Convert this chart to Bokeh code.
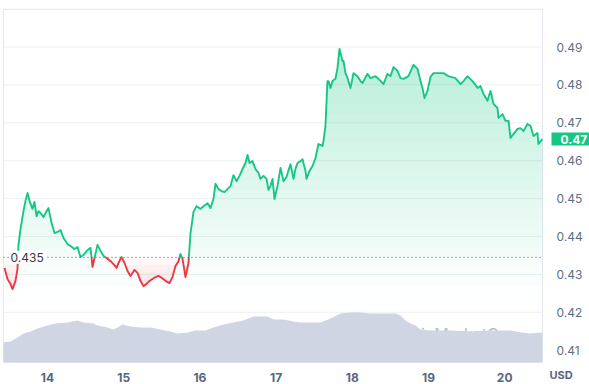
import numpy as np
from bokeh.plotting import figure
from bokeh.models import Range1d
from bokeh.core.properties import value
from bokeh.embed import file_html
from bokeh.resources import INLINE

# ---------------- data ----------------
times = [13.436, 13.475, 13.514, 13.541, 13.580, 13.606, 13.619, 13.646, 13.685, 13.711,
         13.738, 13.764, 13.803, 13.829, 13.856, 13.882, 13.908, 13.948, 13.987, 14.013,
         14.053, 14.092, 14.131, 14.171, 14.210, 14.262, 14.302, 14.354, 14.394, 14.433,
         14.472, 14.525, 14.564, 14.591, 14.617, 14.656, 14.696, 14.735, 14.787, 14.827,
         14.866, 14.906, 14.932, 14.971, 15.011, 15.050, 15.089, 15.142, 15.181, 15.220,
         15.260, 15.299, 15.339, 15.378, 15.417, 15.457, 15.496, 15.549, 15.601, 15.640,
         15.680, 15.719, 15.745, 15.772, 15.811, 15.850, 15.877, 15.916, 15.955, 16.008,
         16.047, 16.100, 16.139, 16.178, 16.205, 16.244, 16.283, 16.323, 16.362, 16.402,
         16.441, 16.480, 16.520, 16.559, 16.598, 16.625, 16.651, 16.690, 16.730, 16.769,
         16.795, 16.835, 16.874, 16.900, 16.926, 16.953, 16.979, 17.018, 17.058, 17.097,
         17.136, 17.189, 17.228, 17.254, 17.281, 17.320, 17.346, 17.386, 17.399, 17.438,
         17.478, 17.517, 17.556, 17.609, 17.622, 17.648, 17.674, 17.688, 17.714, 17.740,
         17.779, 17.806, 17.832, 17.871, 17.884, 17.911, 17.937, 17.976, 18.016, 18.068,
         18.108, 18.134, 18.199, 18.239, 18.304, 18.344, 18.409, 18.462, 18.501, 18.541,
         18.593, 18.632, 18.672, 18.737, 18.803, 18.856, 18.895, 18.921, 18.947, 18.987,
         19.026, 19.066, 19.118, 19.197, 19.262, 19.354, 19.420, 19.459, 19.512, 19.577,
         19.643, 19.682, 19.722, 19.774, 19.814, 19.853, 19.905, 19.919, 19.971, 20.010,
         20.050, 20.076, 20.115, 20.168, 20.207, 20.247, 20.299, 20.338, 20.378, 20.430,
         20.443, 20.495]

prices = [0.4317, 0.4288, 0.4275, 0.4261, 0.4283, 0.4314, 0.4378, 0.4420, 0.4467, 0.4494,
          0.4515, 0.4494, 0.4473, 0.4491, 0.4454, 0.4467, 0.4462, 0.4451, 0.4467, 0.4475,
          0.4436, 0.4409, 0.4412, 0.4417, 0.4396, 0.4380, 0.4375, 0.4367, 0.4372, 0.4346,
          0.4351, 0.4364, 0.4370, 0.4320, 0.4343, 0.4378, 0.4362, 0.4349, 0.4341, 0.4335,
          0.4327, 0.4317, 0.4330, 0.4346, 0.4330, 0.4309, 0.4296, 0.4312, 0.4304, 0.4283,
          0.4269, 0.4275, 0.4283, 0.4288, 0.4293, 0.4296, 0.4291, 0.4283, 0.4277, 0.4293,
          0.4322, 0.4335, 0.4354, 0.4341, 0.4293, 0.4330, 0.4409, 0.4465, 0.4480, 0.4473,
          0.4480, 0.4488, 0.4475, 0.4499, 0.4539, 0.4525, 0.4520, 0.4517, 0.4525, 0.4533,
          0.4562, 0.4546, 0.4560, 0.4578, 0.4594, 0.4615, 0.4594, 0.4599, 0.4578, 0.4568,
          0.4552, 0.4560, 0.4552, 0.4523, 0.4533, 0.4552, 0.4499, 0.4533, 0.4581, 0.4546,
          0.4557, 0.4591, 0.4552, 0.4578, 0.4594, 0.4599, 0.4604, 0.4573, 0.4552, 0.4573,
          0.4586, 0.4607, 0.4644, 0.4639, 0.4652, 0.4692, 0.4810, 0.4810, 0.4792, 0.4810,
          0.4816, 0.4845, 0.4895, 0.4863, 0.4863, 0.4831, 0.4818, 0.4792, 0.4831, 0.4823,
          0.4810, 0.4805, 0.4829, 0.4818, 0.4823, 0.4816, 0.4802, 0.4829, 0.4823, 0.4847,
          0.4837, 0.4818, 0.4816, 0.4823, 0.4853, 0.4842, 0.4810, 0.4792, 0.4765, 0.4784,
          0.4821, 0.4831, 0.4831, 0.4831, 0.4823, 0.4818, 0.4802, 0.4810, 0.4823, 0.4810,
          0.4792, 0.4797, 0.4776, 0.4758, 0.4784, 0.4750, 0.4739, 0.4713, 0.4723, 0.4705,
          0.4705, 0.4660, 0.4670, 0.4684, 0.4686, 0.4678, 0.4697, 0.4692, 0.4665, 0.4673,
          0.4644, 0.4657]

vol_times = [13.423, 13.514, 13.606, 13.685, 13.777, 13.869, 14.000, 14.105, 14.262, 14.394,
             14.472, 14.604, 14.656, 14.787, 14.866, 14.919, 14.984, 15.089, 15.220, 15.352,
             15.483, 15.614, 15.706, 15.837, 15.942, 16.074, 16.178, 16.310, 16.441, 16.572,
             16.703, 16.887, 16.966, 17.097, 17.228, 17.320, 17.451, 17.583, 17.714, 17.845,
             17.976, 18.108, 18.239, 18.436, 18.567, 18.632, 18.698, 18.764, 18.829, 18.895,
             19.026, 19.289, 19.551, 19.814, 20.076, 20.207, 20.338, 20.495]
volumes = [40, 42, 50, 58, 62, 68, 74, 78, 80, 84,
           80, 78, 74, 70, 66, 70, 76, 72, 70, 70,
           66, 62, 58, 60, 64, 64, 70, 76, 80, 84,
           92, 92, 86, 86, 82, 80, 80, 80, 88, 98,
           100, 100, 98, 98, 98, 94, 84, 78, 74, 66,
           64, 64, 62, 64, 64, 60, 58, 60]

day_ticks = [14, 15, 16, 17, 18, 19, 20]
day_labels = ["14", "15", "16", "17", "18", "19", "20"]
price_ticks = [0.41, 0.42, 0.43, 0.44, 0.45, 0.46, 0.47, 0.48, 0.49]
price_labels = ["0.41", "0.42", "0.43", "0.44", "0.45", "0.46", "0.47", "0.48", "0.49"]
baseline = 0.4345
baseline_text = "0.435"
last_text = "0.47"
currency = "USD"
watermark = "CoinMarketCap"

# window of the price pane (data units)
X0, X1 = 13.4226, 20.4961
Y0, Y1 = 0.40681, 0.49995

GREEN = "#16c784"
RED = "#ea3943"
AXIS_TEXT = "#58667e"
FONT = value("Inter")

# ---------------- figure: the frame fills the whole canvas ----------------
p = figure(width=589, height=384, output_backend="svg", toolbar_location=None,
           x_range=Range1d(13.3832, 21.1129), y_range=Range1d(0.40095, 0.50227),
           x_axis_location=None, y_axis_location=None,
           min_border_left=0, min_border_right=0, min_border_top=0, min_border_bottom=0)
p.extra_y_ranges = {"vol": Range1d(-44, 724)}
p.grid.visible = False
p.outline_line_color = None
p.background_fill_color = "white"
p.border_fill_color = "white"

# grid lines and pane border
p.segment(x0=X0, x1=X1, y0=price_ticks, y1=price_ticks, line_color="#eef0f3", line_width=1)
p.quad(left=X0, right=X1, bottom=Y0, top=Y1, fill_color=None, line_color="#e4e7ec", line_width=1)

# watermark (behind the volume)
p.text(x=[X1], y=[Y0], text=[watermark], x_offset=-25, y_offset=-28,
       text_align="right", text_baseline="alphabetic", text_font=FONT,
       text_font_size="16px", text_color="#b4bbc7")

# volume
p.varea(x=vol_times, y1=0, y2=volumes, y_range_name="vol", fill_color="#cfd5e3", fill_alpha=1.0)

# ---- split price series at baseline crossings ----
t = np.array(times, dtype=float)
pr = np.array(prices, dtype=float)
tt = [t[0]]
pp = [pr[0]]
for i in range(1, len(t)):
    a = pr[i - 1] - baseline
    b = pr[i] - baseline
    if a * b < 0:
        f = a / (a - b)
        tt.append(t[i - 1] + f * (t[i] - t[i - 1]))
        pp.append(baseline)
    tt.append(t[i])
    pp.append(pr[i])
tt = np.array(tt)
pp = np.array(pp)

# green gradient fill (below the line)
levels = np.linspace(Y0, Y1, 38)
for lo, hi in zip(levels[:-1], levels[1:]):
    m = 0.5 * (lo + hi)
    alpha = float(np.clip(4.7 * (m - 0.4245), 0.0, 0.31))
    if alpha <= 0:
        continue
    p.varea(x=tt, y1=lo, y2=np.clip(pp, lo, hi), fill_color=GREEN, fill_alpha=alpha)

# red gradient fill (between the line and the baseline)
rlevels = np.linspace(0.4245, baseline, 6)
for lo, hi in zip(rlevels[:-1], rlevels[1:]):
    m = 0.5 * (lo + hi)
    alpha = float(np.clip(0.03 + 0.12 * (baseline - m) / 0.008, 0.0, 0.17))
    p.varea(x=tt, y1=np.clip(pp, lo, hi), y2=hi, fill_color=RED, fill_alpha=alpha)

# coloured line runs
g_xs, g_ys, r_xs, r_ys = [], [], [], []
cur_x, cur_y = [tt[0]], [pp[0]]
cur_up = (pp[0] + pp[1]) / 2 >= baseline
for j in range(1, len(tt)):
    up = (pp[j - 1] + pp[j]) / 2 >= baseline
    if up != cur_up:
        (g_xs if cur_up else r_xs).append(cur_x)
        (g_ys if cur_up else r_ys).append(cur_y)
        cur_x, cur_y = [tt[j - 1]], [pp[j - 1]]
        cur_up = up
    cur_x.append(tt[j])
    cur_y.append(pp[j])
(g_xs if cur_up else r_xs).append(cur_x)
(g_ys if cur_up else r_ys).append(cur_y)

p.multi_line(xs=g_xs, ys=g_ys, line_color=GREEN, line_width=1.9, line_join="round")
p.multi_line(xs=r_xs, ys=r_ys, line_color=RED, line_width=1.9, line_join="round")

# baseline (dotted) and its label
p.line(x=[X0, X1], y=[baseline, baseline], line_color="#555555", line_dash="1 3", line_width=1)
p.text(x=[X0], y=[baseline], text=[baseline_text], x_offset=6,
       text_baseline="middle", text_align="left", text_font=FONT,
       text_font_size="12px", text_color="#3a3a3a",
       background_fill_color="white", background_fill_alpha=1.0,
       padding=dict(left=1, right=3, top=2, bottom=2))

# right price axis labels
p.text(x=X1, y=price_ticks, text=price_labels, x_offset=14,
       text_baseline="middle", text_align="left", text_font=FONT,
       text_font_size="12px", text_color="#616e85")

# bottom day labels
p.text(x=day_ticks, y=Y0, text=day_labels, y_offset=15,
       text_baseline="middle", text_align="center", text_font=FONT,
       text_font_size="12px", text_font_style="bold", text_color=AXIS_TEXT)

# currency label
p.text(x=[X1], y=[Y0], text=[currency], x_offset=7, y_offset=6,
       text_baseline="top", text_align="left", text_font=FONT,
       text_font_size="11px", text_font_style="bold", text_color=AXIS_TEXT)

# current price tag
p.text(x=[X1], y=[prices[-1]], text=[last_text], x_offset=9,
       text_baseline="middle", text_align="left", text_font=FONT,
       text_font_size="12px", text_font_style="bold", text_color="white",
       background_fill_color=GREEN, background_fill_alpha=1.0,
       padding=dict(left=9, right=9, top=2, bottom=2))

open("out.html", "w").write(file_html(p, INLINE))
